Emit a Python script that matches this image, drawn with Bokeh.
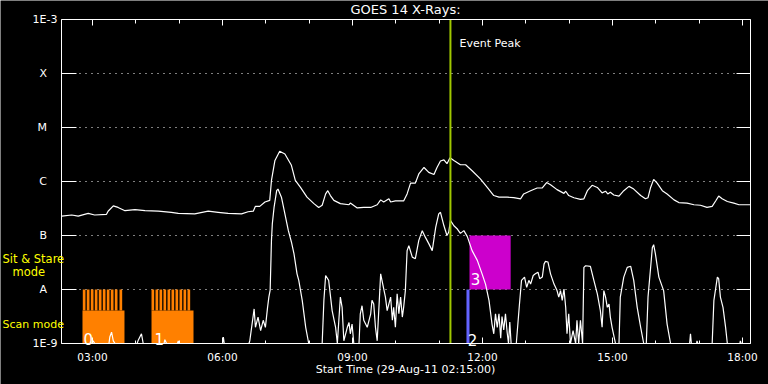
import numpy as np
from bokeh.plotting import figure
from bokeh.models import LinearAxis, LogAxis, FixedTicker, Label, Range1d
from bokeh.embed import file_html
from bokeh.resources import INLINE

FONT = "DejaVu Sans"

# ---------------- data (time in decimal hours UT, flux as log10 W/m^2) ----------------
long_time = [2.29, 2.52, 2.67, 2.90, 3.05, 3.32, 3.36, 3.48, 3.59, 3.75,
             3.98, 4.21, 4.52, 4.82, 4.98, 5.36, 5.67, 5.90, 6.13, 6.44,
             6.59, 6.71, 6.76, 6.86, 6.98, 7.09, 7.13, 7.21, 7.32, 7.44,
             7.59, 7.68, 7.80, 7.95, 8.11, 8.22, 8.30, 8.38, 8.43, 8.49,
             8.57, 8.72, 8.92, 8.95, 9.11, 9.26, 9.42, 9.57, 9.65, 9.72,
             9.84, 9.88, 9.99, 10.18, 10.26, 10.34, 10.45, 10.53, 10.65, 10.76,
             10.88, 10.95, 11.03, 11.11, 11.18, 11.25, 11.34, 11.49, 11.61, 11.76,
             11.95, 12.11, 12.26, 12.38, 12.57, 12.72, 12.88, 12.95, 13.11, 13.26,
             13.38, 13.48, 13.57, 13.72, 13.88, 13.92, 13.99, 14.11, 14.26, 14.34,
             14.42, 14.53, 14.65, 14.76, 14.84, 14.89, 14.95, 15.03, 15.15, 15.26,
             15.38, 15.49, 15.65, 15.76, 15.82, 15.88, 15.95, 16.03, 16.15, 16.26,
             16.42, 16.53, 16.72, 16.88, 17.03, 17.18, 17.30, 17.38, 17.45, 17.53,
             17.65, 17.80, 17.92, 18.18]
long_log10_flux = [-6.64, -6.62, -6.64, -6.59, -6.62, -6.61, -6.55, -6.45, -6.48, -6.54,
                   -6.52, -6.54, -6.55, -6.57, -6.59, -6.60, -6.55, -6.57, -6.59, -6.60,
                   -6.56, -6.55, -6.46, -6.46, -6.38, -6.35, -5.98, -5.61, -5.44, -5.49,
                   -5.70, -5.98, -6.11, -6.29, -6.41, -6.48, -6.44, -6.23, -6.17, -6.26,
                   -6.35, -6.41, -6.43, -6.40, -6.49, -6.48, -6.48, -6.43, -6.34, -6.38,
                   -6.32, -6.38, -6.36, -6.36, -6.23, -6.03, -6.03, -5.86, -5.74, -5.83,
                   -5.87, -5.74, -5.62, -5.60, -5.67, -5.56, -5.61, -5.69, -5.69, -5.80,
                   -5.95, -6.11, -6.26, -6.29, -6.29, -6.30, -6.32, -6.23, -6.17, -6.12,
                   -6.12, -6.02, -6.06, -6.15, -6.22, -6.18, -6.26, -6.30, -6.33, -6.32,
                   -6.17, -6.07, -6.11, -6.21, -6.18, -6.23, -6.20, -6.25, -6.27, -6.17,
                   -6.09, -6.14, -6.26, -6.32, -6.30, -6.11, -5.96, -6.03, -6.17, -6.23,
                   -6.34, -6.39, -6.40, -6.43, -6.44, -6.48, -6.46, -6.36, -6.27, -6.32,
                   -6.37, -6.40, -6.43, -6.43]

# -9.0 is the floor of the plot (1E-9)
short_time = [2.29, 2.98, 3.015, 3.05, 3.38, 3.40, 3.44, 3.48, 3.52, 4.03,
              4.05, 4.13, 4.17, 4.65, 4.67, 4.71, 4.96, 4.98, 4.99, 6.00,
              6.02, 6.04, 6.61, 6.63, 6.73, 6.76, 6.82, 6.88, 6.94, 6.99,
              7.04, 7.07, 7.10, 7.13, 7.15, 7.19, 7.25, 7.28, 7.36, 7.44,
              7.52, 7.59, 7.65, 7.72, 7.76, 7.84, 7.92, 7.99, 8.30, 8.34,
              8.38, 8.45, 8.53, 8.61, 8.65, 8.72, 8.76, 8.80, 8.88, 8.92,
              8.95, 8.99, 9.03, 9.15, 9.18, 9.22, 9.26, 9.34, 9.42, 9.45,
              9.49, 9.53, 9.57, 9.65, 9.68, 9.76, 9.80, 9.88, 9.92, 9.95,
              9.99, 10.03, 10.07, 10.11, 10.15, 10.18, 10.22, 10.26, 10.30, 10.38,
              10.45, 10.53, 10.61, 10.68, 10.76, 10.84, 10.92, 10.99, 11.03, 11.11,
              11.18, 11.22, 11.26, 11.34, 11.42, 11.49, 11.57, 11.65, 11.76, 11.88,
              11.99, 12.07, 12.15, 12.22, 12.26, 12.30, 12.34, 12.38, 12.42, 12.45,
              12.49, 12.53, 12.57, 12.60, 12.63, 12.66, 12.78, 12.85, 12.90, 12.97,
              13.02, 13.07, 13.11, 13.17, 13.22, 13.28, 13.32, 13.38, 13.42, 13.45,
              13.51, 13.57, 13.65, 13.72, 13.76, 13.80, 13.84, 13.88, 13.92, 13.95,
              13.99, 14.03, 14.09, 14.15, 14.18, 14.22, 14.26, 14.31, 14.34, 14.38,
              14.49, 14.57, 14.65, 14.72, 14.76, 14.80, 14.84, 14.88, 14.92, 14.95,
              14.99, 15.07, 15.15, 15.18, 15.26, 15.34, 15.42, 15.49, 15.57, 15.65,
              15.72, 15.78, 15.82, 15.88, 15.92, 15.95, 15.99, 16.07, 16.18, 16.26,
              16.34, 16.78, 16.80, 16.82, 16.94, 16.95, 16.97, 17.30, 17.34, 17.42,
              17.45, 17.49, 17.55, 17.61, 17.65, 17.94, 17.95, 17.97, 18.18]
short_log10_flux = [-9.0, -9.0, -8.95, -9.0, -9.0, -8.88, -8.79, -8.95, -9.0, -9.0,
                    -8.95, -8.82, -9.0, -9.0, -8.93, -9.0, -9.0, -8.95, -9.0, -9.0,
                    -8.88, -9.0, -9.0, -8.95, -8.36, -8.70, -8.51, -8.76, -8.57, -8.70,
                    -8.33, -8.14, -8.01, -7.09, -6.78, -6.48, -6.17, -6.14, -6.29, -6.60,
                    -6.91, -7.12, -7.34, -7.71, -7.83, -8.20, -8.70, -9.0, -9.0, -8.20,
                    -7.74, -7.83, -8.39, -8.70, -9.0, -8.14, -8.33, -8.95, -8.70, -8.61,
                    -8.82, -8.64, -9.0, -9.0, -8.45, -8.30, -8.57, -8.70, -8.45, -8.20,
                    -8.27, -8.70, -8.95, -7.71, -7.83, -8.14, -8.39, -8.14, -8.57, -8.33,
                    -8.70, -8.08, -8.45, -8.14, -8.51, -8.33, -8.02, -7.28, -7.19, -7.40,
                    -7.43, -7.09, -6.91, -7.03, -7.15, -7.28, -6.85, -6.60, -6.57, -6.82,
                    -7.00, -6.94, -6.72, -6.82, -6.88, -6.96, -6.91, -7.02, -7.28, -7.46,
                    -7.71, -7.90, -8.20, -8.64, -8.82, -8.45, -8.70, -8.45, -8.90, -8.50,
                    -8.75, -8.45, -8.80, -9.0, -8.60, -9.0, -9.0, -8.30, -7.83, -7.77,
                    -7.96, -7.83, -7.90, -7.74, -7.71, -7.68, -7.80, -7.77, -7.53, -7.48,
                    -7.49, -7.71, -7.90, -8.02, -8.14, -8.02, -8.20, -7.99, -8.33, -8.82,
                    -8.45, -9.0, -8.76, -9.0, -8.57, -9.0, -8.57, -9.0, -7.59, -7.56,
                    -7.57, -7.83, -8.08, -8.39, -8.70, -8.02, -8.14, -8.33, -8.27, -8.51,
                    -8.70, -9.0, -9.0, -8.14, -7.77, -7.59, -7.57, -7.83, -8.33, -8.70,
                    -9.0, -9.0, -8.14, -7.59, -7.22, -7.17, -7.34, -7.77, -8.02, -8.64,
                    -9.0, -9.0, -8.82, -9.0, -9.0, -8.95, -9.0, -9.0, -8.20, -7.77,
                    -7.80, -8.14, -8.33, -8.70, -9.0, -9.0, -8.95, -9.0, -9.0]

flux_levels = [1e-9, 1e-8, 1e-7, 1e-6, 1e-5, 1e-4, 1e-3]
flux_level_labels = ["1E-9", "A", "B", "C", "M", "X", "1E-3"]
time_ticks = [3, 6, 9, 12, 15, 18]
time_tick_labels = ["03:00", "06:00", "09:00", "12:00", "15:00", "18:00"]
time_minor_ticks = list(range(3, 19))

time_start, time_end = 2.285, 18.185      # plotted window (02:17 - 18:11 UT)
flux_min, flux_max = 1e-9, 1e-3

event_peak_time = 11.26

# scan-mode blocks (orange) and their comb spikes
scan_block_start = [2.769, 4.362]
scan_block_end = [3.738, 5.331]
scan_block_top = 4.07e-9
scan_spike_start = [2.776, 2.868, 2.961, 3.053, 3.145, 3.238, 3.330, 3.422, 3.515, 3.623,
                    4.362, 4.454, 4.546, 4.638, 4.731, 4.823, 4.915, 5.008, 5.100, 5.192]
scan_spike_end = [2.838, 2.931, 3.023, 3.115, 3.208, 3.300, 3.392, 3.485, 3.577, 3.685,
                  4.423, 4.516, 4.608, 4.700, 4.793, 4.885, 4.977, 5.070, 5.162, 5.254]
scan_spike_top = 1e-8

# sit & stare block (magenta) and pointing marker (blue)
stare_start, stare_end, stare_bottom, stare_top = [11.70], [12.65], [1e-8], [1e-7]
marker_start, marker_end, marker_bottom, marker_top = [11.63], [11.70], [1e-9], [1e-8]

long_flux = 10 ** np.array(long_log10_flux)
short_flux = 10 ** np.array(short_log10_flux)

# ---------------- figure ----------------
# the frame covers the whole canvas; axes are pinned at the window edges
p = figure(width=768, height=384,
           x_range=Range1d(0.877, 18.600), y_range=Range1d(10 ** -9.759, 10 ** -2.648),
           y_axis_type="log", x_axis_location=None, y_axis_location=None,
           output_backend="svg", toolbar_location=None,
           background_fill_color="black", border_fill_color="black",
           outline_line_color=None,
           min_border_left=0, min_border_right=0,
           min_border_top=0, min_border_bottom=0)
p.xgrid.visible = False
p.ygrid.visible = False


def style(ax, major_in, minor_in):
    ax.axis_line_color = "white"
    ax.major_tick_line_color = "white"
    ax.minor_tick_line_color = "white"
    ax.major_tick_in = major_in
    ax.major_tick_out = 0
    ax.minor_tick_in = minor_in
    ax.minor_tick_out = 0
    ax.major_label_text_color = "white"
    ax.major_label_text_font = FONT
    ax.major_label_text_font_size = "11px"


nb = "\u00a0\u00a0\u00a0"
left_labels = {v: (l if l.startswith("1E") else l + nb)
               for v, l in zip(flux_levels, flux_level_labels)}
left = LogAxis(ticker=FixedTicker(ticks=flux_levels, minor_ticks=[]),
               major_label_overrides=left_labels, major_label_standoff=4,
               fixed_location=time_start, bounds=(flux_min, flux_max))
style(left, 15, 0)
p.add_layout(left, "left")

right = LogAxis(ticker=FixedTicker(ticks=flux_levels, minor_ticks=[]),
                major_label_overrides={v: "" for v in flux_levels},
                fixed_location=time_end, bounds=(flux_min, flux_max))
style(right, 14, 0)
p.add_layout(right, "right")

bottom = LinearAxis(ticker=FixedTicker(ticks=time_ticks, minor_ticks=time_minor_ticks),
                    major_label_overrides=dict(zip(time_ticks, time_tick_labels)),
                    major_label_standoff=7,
                    fixed_location=flux_min, bounds=(time_start, time_end))
style(bottom, 6, 3)
bottom.major_label_text_font_size = "10.5px"
p.add_layout(bottom, "below")

top = LinearAxis(ticker=FixedTicker(ticks=time_ticks, minor_ticks=time_minor_ticks),
                 major_label_overrides={t: "" for t in time_ticks},
                 fixed_location=flux_max, bounds=(time_start, time_end))
style(top, 6, 4)
p.add_layout(top, "above")

# dotted level lines
grid_levels = flux_levels[1:-1]
p.segment(x0=[time_start] * len(grid_levels), x1=[time_end] * len(grid_levels),
          y0=grid_levels, y1=grid_levels,
          line_color="white", line_dash="1 5", line_width=1)

# blocks
p.quad(left=scan_block_start, right=scan_block_end, bottom=flux_min, top=scan_block_top,
       fill_color="#ff8000", line_color=None)
p.quad(left=scan_spike_start, right=scan_spike_end, bottom=scan_block_top, top=scan_spike_top,
       fill_color="#ff8000", line_color=None)
p.quad(left=stare_start, right=stare_end, bottom=stare_bottom, top=stare_top,
       fill_color="#cc00cc", line_color=None)
p.quad(left=marker_start, right=marker_end, bottom=marker_bottom, top=marker_top,
       fill_color="#6464ff", line_color=None)

# curves
p.line(long_time, long_flux, line_color="white", line_width=1.2)
p.line(short_time, short_flux, line_color="white", line_width=1.2)

# event peak marker
p.segment(x0=[event_peak_time], x1=[event_peak_time], y0=[flux_min], y1=[flux_max],
          line_color="#a0c800", line_width=2)


def lab(x, y, text, color="white", size="11px", align="left", baseline="middle"):
    p.add_layout(Label(x=x, y=y, text=text, text_color=color, text_font=FONT,
                       text_font_size=size, text_align=align, text_baseline=baseline))


lab(10.223, 10 ** -2.815, "GOES 14 X-Rays:", size="13px", align="center")
lab(10.223, 10 ** -9.481, "Start Time (29-Aug-11 02:15:00)", size="11px", align="center")
lab(0.923, 10 ** -7.444, "Sit & Stare", color="yellow", size="11.5px")
lab(1.154, 10 ** -7.667, "mode", color="yellow", size="11.5px")
lab(0.923, 10 ** -8.648, "Scan mode", color="yellow", size="11px")
lab(11.47, 10 ** -3.444, "Event Peak")
lab(2.79, 10 ** -8.91, "0", size="15px", baseline="alphabetic")
lab(4.43, 10 ** -8.91, "1", size="15px", baseline="alphabetic")
lab(11.66, 10 ** -8.94, "2", size="15px", baseline="alphabetic")
lab(11.73, 10 ** -7.80, "3", size="15px", baseline="alphabetic")

open("out.html", "w").write(file_html(p, INLINE))
